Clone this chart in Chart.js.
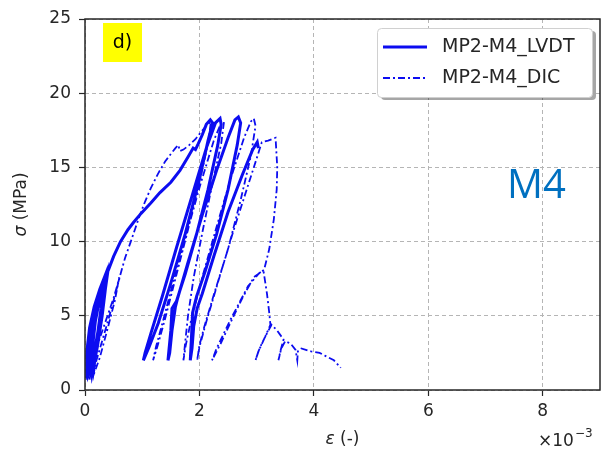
<!DOCTYPE html>
<html>
<head>
<meta charset="utf-8">
<script src="https://cdn.jsdelivr.net/npm/chart.js@4.4.0/dist/chart.umd.min.js"></script>
<style>
    html, body { margin: 0; padding: 0; background: #fff; }
    canvas { display: block; }
</style>
</head>
<body>
<canvas id="chartM4" width="603" height="459"></canvas>
<script>
// strain in units of 1e-3, stress in MPa
const xTicks = [0, 2, 4, 6, 8];
const yTicks = [0, 5, 10, 15, 20, 25];
const seriesNames = ['MP2-M4_LVDT', 'MP2-M4_DIC'];

const lvdtStrain = [
    0.02, 0.03, 0.08, 0.16, 0.26, 0.34,
    0.28, 0.20, 0.12,
    0.10, 0.12, 0.20, 0.30, 0.37,
    0.33, 0.25, 0.15,
    0.12, 0.18, 0.28, 0.39,
    0.35, 0.30, 0.22, 0.12,
    0.08, 0.10, 0.18, 0.30, 0.40,
    0.36, 0.30, 0.22, 0.12, 0.06,
    0.05, 0.09, 0.16, 0.26, 0.36, 0.41,
    0.50, 0.62, 0.75, 0.85, 0.98, 1.15, 1.31, 1.50, 1.66, 1.80, 1.89, 1.93, 1.98, 2.05, 2.12, 2.19, 2.23,
    2.15, 2.00, 1.75, 1.50, 1.28, 1.12, 1.02,
    1.05, 1.15, 1.35, 1.60, 1.88, 2.12, 2.28, 2.36, 2.38,
    2.32, 2.15, 1.95, 1.75, 1.60, 1.52, 1.50, 1.47, 1.45,
    1.48, 1.52, 1.58, 1.62, 1.80, 2.05, 2.30, 2.50, 2.62, 2.68, 2.72,
    2.66, 2.50, 2.30, 2.10, 1.95, 1.88, 1.86, 1.84,
    1.87, 1.90, 1.96, 2.05, 2.25, 2.50, 2.75, 2.93, 3.01, 3.03
];
const lvdtStress = [
    0.8, 2.5, 4.2, 5.6, 6.8, 7.6,
    5.5, 3.2, 1.2,
    2.0, 3.6, 5.4, 7.0, 7.8,
    6.2, 4.0, 1.4,
    2.5, 4.6, 6.6, 7.9,
    6.6, 5.0, 3.0, 1.0,
    1.8, 3.2, 5.2, 7.2, 8.0,
    6.9, 5.6, 3.8, 1.6, 1.0,
    2.2, 3.8, 5.3, 6.8, 7.7, 8.1,
    9.0, 10.0, 10.8, 11.3, 11.9, 12.6, 13.3, 14.0, 14.8, 15.7, 16.3, 16.2, 16.6, 17.2, 17.9, 18.2, 18.0,
    16.8, 14.2, 10.5, 7.2, 4.5, 2.9, 2.0,
    2.5, 3.8, 6.3, 9.6, 13.2, 16.3, 18.0, 18.3, 17.9,
    16.5, 13.5, 10.5, 7.8, 6.0, 5.5, 4.0, 2.8, 2.0,
    2.5, 4.0, 5.6, 6.2, 8.6, 11.8, 14.8, 17.0, 18.2, 18.4, 18.0,
    16.5, 13.5, 10.5, 8.0, 6.3, 5.2, 3.5, 2.0,
    2.8, 4.3, 5.5, 6.5, 9.0, 12.0, 14.5, 16.2, 16.7, 16.3
];

const dicStrain = [
    0.08, 0.12, 0.18, 0.26, 0.34, 0.42, 0.50, 0.56, 0.60,
    0.52, 0.40, 0.26, 0.14,
    0.20, 0.30, 0.42, 0.54, 0.62,
    0.70, 0.80, 0.88, 0.95, 1.05, 1.15, 1.28, 1.40, 1.50, 1.58, 1.63, 1.66, 1.72, 1.82, 1.93, 2.03, 2.12, 2.20,
    2.16, 2.00, 1.80, 1.58, 1.40, 1.27, 1.19,
    1.24, 1.36, 1.55, 1.78, 2.02, 2.25, 2.38, 2.43,
    2.38, 2.22, 2.05, 1.90, 1.80, 1.75, 1.72,
    1.76, 1.86, 2.05, 2.30, 2.55, 2.78, 2.90, 2.95, 2.98,
    2.90, 2.72, 2.50, 2.25, 2.08, 2.00, 1.96,
    2.00, 2.12, 2.35, 2.60, 2.85, 3.00, 3.09, 3.20, 3.33,
    3.36, 3.35, 3.30, 3.22, 3.13,
    2.95, 2.75, 2.55, 2.38, 2.22,
    2.30, 2.55, 2.85, 3.05, 3.12,
    3.18, 3.22, 3.24,
    3.15, 3.05, 2.98,
    3.03, 3.15, 3.26,
    3.36, 3.47,
    3.42, 3.38, 3.43, 3.50,
    3.60, 3.68, 3.71, 3.72, 3.78, 3.95, 4.10, 4.20, 4.35, 4.47
];
const dicStress = [
    0.7, 1.6, 2.6, 3.5, 4.4, 5.3, 6.2, 7.0, 7.6,
    6.0, 4.2, 2.2, 0.9,
    2.0, 3.3, 4.9, 6.6, 7.8,
    8.9, 10.0, 10.9, 11.7, 12.7, 13.6, 14.6, 15.4, 15.9, 16.3, 16.5, 16.1, 16.2, 16.5, 16.9, 17.4, 17.8, 18.1,
    16.8, 14.0, 10.8, 7.5, 4.8, 3.0, 2.0,
    2.9, 4.6, 7.4, 10.6, 13.9, 16.8, 18.0, 18.1,
    16.6, 13.8, 10.6, 7.6, 5.0, 3.2, 2.0,
    3.0, 4.8, 7.6, 11.0, 14.3, 17.0, 18.1, 18.3, 17.8,
    15.8, 12.8, 9.5, 6.4, 4.2, 3.0, 2.0,
    2.9, 4.6, 7.6, 10.8, 13.8, 15.6, 16.7, 16.8, 17.0,
    15.0, 13.5, 11.5, 9.5, 8.1,
    7.6, 6.2, 4.6, 3.2, 2.0,
    2.8, 4.8, 7.0, 7.9, 8.0,
    6.5, 5.2, 4.4,
    3.6, 2.8, 2.0,
    2.6, 3.6, 4.4,
    4.0, 3.4,
    2.7, 2.0, 2.8, 3.3,
    3.1, 2.7, 2.0, 2.6, 2.8, 2.6, 2.5, 2.3, 2.0, 1.5
];

function toPoints(xs, ys) {
    return xs.map((x, i) => ({ x: x, y: ys[i] }));
}

const blue = 'rgb(12, 12, 240)';
const textColor = '#262626';
const baseFont = 'DejaVu Sans';

function drawLegendLine(ctx, x1, x2, y, width, dash) {
    ctx.save();
    ctx.strokeStyle = blue;
    ctx.lineWidth = width;
    ctx.setLineDash(dash);
    ctx.beginPath();
    ctx.moveTo(x1, y);
    ctx.lineTo(x2, y);
    ctx.stroke();
    ctx.restore();
}

function roundRect(ctx, x, y, w, h, r) {
    ctx.beginPath();
    ctx.moveTo(x + r, y);
    ctx.lineTo(x + w - r, y);
    ctx.quadraticCurveTo(x + w, y, x + w, y + r);
    ctx.lineTo(x + w, y + h - r);
    ctx.quadraticCurveTo(x + w, y + h, x + w - r, y + h);
    ctx.lineTo(x + r, y + h);
    ctx.quadraticCurveTo(x, y + h, x, y + h - r);
    ctx.lineTo(x, y + r);
    ctx.quadraticCurveTo(x, y, x + r, y);
    ctx.closePath();
}

const decorations = {
    id: 'decorations',
    afterDraw(chart) {
        const ctx = chart.ctx;
        const a = chart.chartArea;
        ctx.save();

        // frame round the plot
        ctx.strokeStyle = textColor;
        ctx.lineWidth = 1.5;
        ctx.strokeRect(a.left, a.top, a.right - a.left, a.bottom - a.top);

        // panel label d)
        ctx.fillStyle = '#ffff00';
        ctx.fillRect(103, 23, 39, 39);
        ctx.fillStyle = '#000';
        ctx.font = '19px ' + baseFont;
        ctx.textAlign = 'center';
        ctx.textBaseline = 'middle';
        ctx.fillText('d)', 122.5, 43);

        // legend
        ctx.fillStyle = 'rgba(0,0,0,0.35)';
        roundRect(ctx, 381, 31, 215, 69, 4);
        ctx.fill();
        ctx.fillStyle = '#fff';
        ctx.strokeStyle = '#d0d0d0';
        ctx.lineWidth = 1;
        roundRect(ctx, 377.5, 28.5, 215, 69, 4);
        ctx.fill();
        ctx.stroke();
        drawLegendLine(ctx, 383, 427, 47, 3, []);
        drawLegendLine(ctx, 383, 427, 78, 1.8, [7, 3, 2, 3]);
        ctx.fillStyle = textColor;
        ctx.font = '19px ' + baseFont;
        ctx.textAlign = 'left';
        ctx.fillText(seriesNames[0], 442, 47);
        ctx.fillText(seriesNames[1], 442, 78);

        // specimen tag
        ctx.fillStyle = '#0070c0';
        ctx.font = '40px "Open Sans"';
        ctx.textBaseline = 'alphabetic';
        ctx.fillText('M4', 507, 198);

        // x axis title
        const cx = (a.left + a.right) / 2;
        ctx.fillStyle = textColor;
        ctx.font = 'italic 17px ' + baseFont;
        const w1 = ctx.measureText('ε').width;
        ctx.font = '17px ' + baseFont;
        const w2 = ctx.measureText(' (-)').width;
        const x0 = cx - (w1 + w2) / 2;
        ctx.textBaseline = 'middle';
        ctx.font = 'italic 17px ' + baseFont;
        ctx.fillText('ε', x0, 440);
        ctx.font = '17px ' + baseFont;
        ctx.fillText(' (-)', x0 + w1, 440);

        // offset text
        ctx.textBaseline = 'alphabetic';
        ctx.font = '17px ' + baseFont;
        ctx.fillText('×10', 538, 446);
        const w3 = ctx.measureText('×10').width;
        ctx.font = '12px ' + baseFont;
        ctx.fillText('−3', 538 + w3 + 1, 437);

        // y axis title
        const cy = (a.top + a.bottom) / 2;
        ctx.translate(22, cy);
        ctx.rotate(-Math.PI / 2);
        ctx.font = 'italic 17px ' + baseFont;
        const w4 = ctx.measureText('σ').width;
        ctx.font = '17px ' + baseFont;
        const w5 = ctx.measureText(' (MPa)').width;
        const y0 = -(w4 + w5) / 2;
        ctx.textBaseline = 'middle';
        ctx.font = 'italic 17px ' + baseFont;
        ctx.fillText('σ', y0, 0);
        ctx.font = '17px ' + baseFont;
        ctx.fillText(' (MPa)', y0 + w4, 0);

        ctx.restore();
    }
};

Chart.defaults.font.family = baseFont;
Chart.defaults.color = textColor;

const ctx = document.getElementById('chartM4').getContext('2d');
const chart = new Chart(ctx, {
    type: 'scatter',
    data: {
        datasets: [{
            label: seriesNames[0],
            data: toPoints(lvdtStrain, lvdtStress),
            showLine: true,
            borderColor: blue,
            borderWidth: 3,
            pointRadius: 0,
            tension: 0
        }, {
            label: seriesNames[1],
            data: toPoints(dicStrain, dicStress),
            showLine: true,
            borderColor: blue,
            borderWidth: 1.8,
            borderDash: [7, 3, 2, 3],
            pointRadius: 0,
            tension: 0
        }]
    },
    options: {
        responsive: false,
        animation: false,
        layout: { padding: { top: 19, right: 3, bottom: 0, left: 0 } },
        plugins: {
            legend: { display: false },
            tooltip: { enabled: false }
        },
        scales: {
            x: {
                type: 'linear',
                min: 0,
                max: 9,
                afterBuildTicks: s => { s.ticks = xTicks.map(v => ({ value: v })); },
                afterFit: s => { s.height = 69; },
                ticks: { font: { size: 17 }, color: textColor, padding: 5, maxRotation: 0 },
                grid: { color: '#b5b5b5', lineWidth: 1, tickLength: 6, tickColor: textColor, tickWidth: 1.2 },
                border: { display: false, dash: [4, 3] }
            },
            y: {
                type: 'linear',
                min: 0,
                max: 25,
                afterBuildTicks: s => { s.ticks = yTicks.map(v => ({ value: v })); },
                afterFit: s => { s.width = 85; },
                ticks: { font: { size: 17 }, color: textColor, padding: 8 },
                grid: { color: '#b5b5b5', lineWidth: 1, tickLength: 6, tickColor: textColor, tickWidth: 1.2 },
                border: { display: false, dash: [4, 3] }
            }
        }
    },
    plugins: [decorations]
});
</script>
</body>
</html>
